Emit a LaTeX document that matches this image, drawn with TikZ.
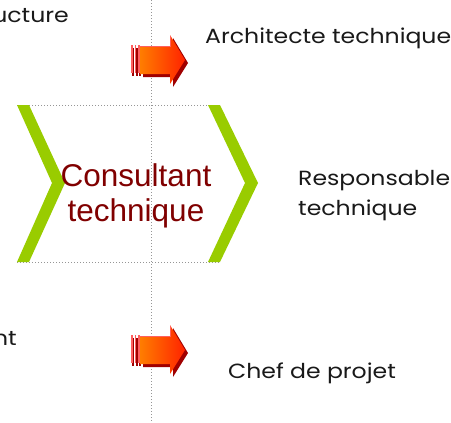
\documentclass[tikz,border=0pt]{standalone}
\usepackage{fontspec}
\setmainfont{Liberation Sans}
\newfontfamily\gothic[FakeStretch=1.15]{Poppins}
\definecolor{chevgreen}{RGB}{153,204,0}
\definecolor{consred}{RGB}{128,0,0}
\definecolor{dotgray}{RGB}{150,150,150}
\definecolor{arrdark}{RGB}{160,0,0}
\definecolor{arrlight}{RGB}{255,95,95}
\definecolor{arrleft}{RGB}{255,125,0}
\definecolor{arrmid}{RGB}{255,165,0}
\definecolor{arrright}{RGB}{255,35,0}
\begin{document}
\begin{tikzpicture}[x=1pt,y=-1pt,
  dotline/.style={dotgray,line width=1pt,dash pattern=on 1pt off 2pt},
  chevron/.style={fill=chevgreen},
  roletext/.style={font=\gothic\fontsize{20.5}{25}\selectfont,text=black!90,inner sep=0pt},
  constext/.style={font=\fontsize{31.5}{36}\selectfont,text=consred,inner sep=0pt,anchor=base}]
\useasboundingbox (0,0) rectangle (451,423);
% dotted guides
\draw[dotline] (151,0) -- (151,423);
\draw[dotline] (17,105) -- (220,105);
\draw[dotline] (17,262) -- (220,262);
% chevrons
\fill[chevron] (17,105) -- (29,105) -- (65,183) -- (29,262) -- (17,262) -- (52,183) -- cycle;
\fill[chevron] (208,105) -- (220,105) -- (258,183) -- (220,262) -- (208,262) -- (245,183) -- cycle;
% central text
\node[constext] (cons1) at (136,186) {Consultant};
\node[constext] (cons2) at (136,222) {technique};
% arrows
\foreach \yc/\nm in {60/arrA,350/arrB}{
\begin{scope}[shift={(0,\yc)}]
  % stripes
  \foreach \sx in {131,134.5,138}{
    \fill[arrdark] (\sx+1.2,-12) rectangle (\sx+3,16);
    \fill[arrlight] (\sx,-15) rectangle (\sx+1.8,13);
  }
  % shadow
  \fill[arrdark] (143,-11) -- (173,-11) -- (173,-22) -- (188,3) -- (173,27) -- (173,17) -- (143,17) -- cycle;
  % body
  \shade[left color=arrleft,middle color=arrmid,right color=arrright]
    (140,-14) -- (170,-14) -- (170,-25) -- (185,0) -- (170,24) -- (170,14) -- (140,14) -- cycle;
  % highlight
  \draw[arrlight,line width=1.4pt] (140,-13.3) -- (170.7,-13.3) -- (170.7,-24);
  \coordinate (\nm) at (162,0);
\end{scope}
}
% role texts
\node[roletext,anchor=base east] (infra) at (69,23) {ucture};
\node[roletext,anchor=base west] (archi) at (205,43) {Architecte technique};
\node[roletext,anchor=base west] (resp1) at (298,185) {Responsable};
\node[roletext,anchor=base west] (resp2) at (298,215) {technique};
\node[roletext,anchor=base east] (left2) at (17,345) {nt};
\node[roletext,anchor=base west] (chef) at (228,378) {Chef de projet};
\end{tikzpicture}
\end{document}
